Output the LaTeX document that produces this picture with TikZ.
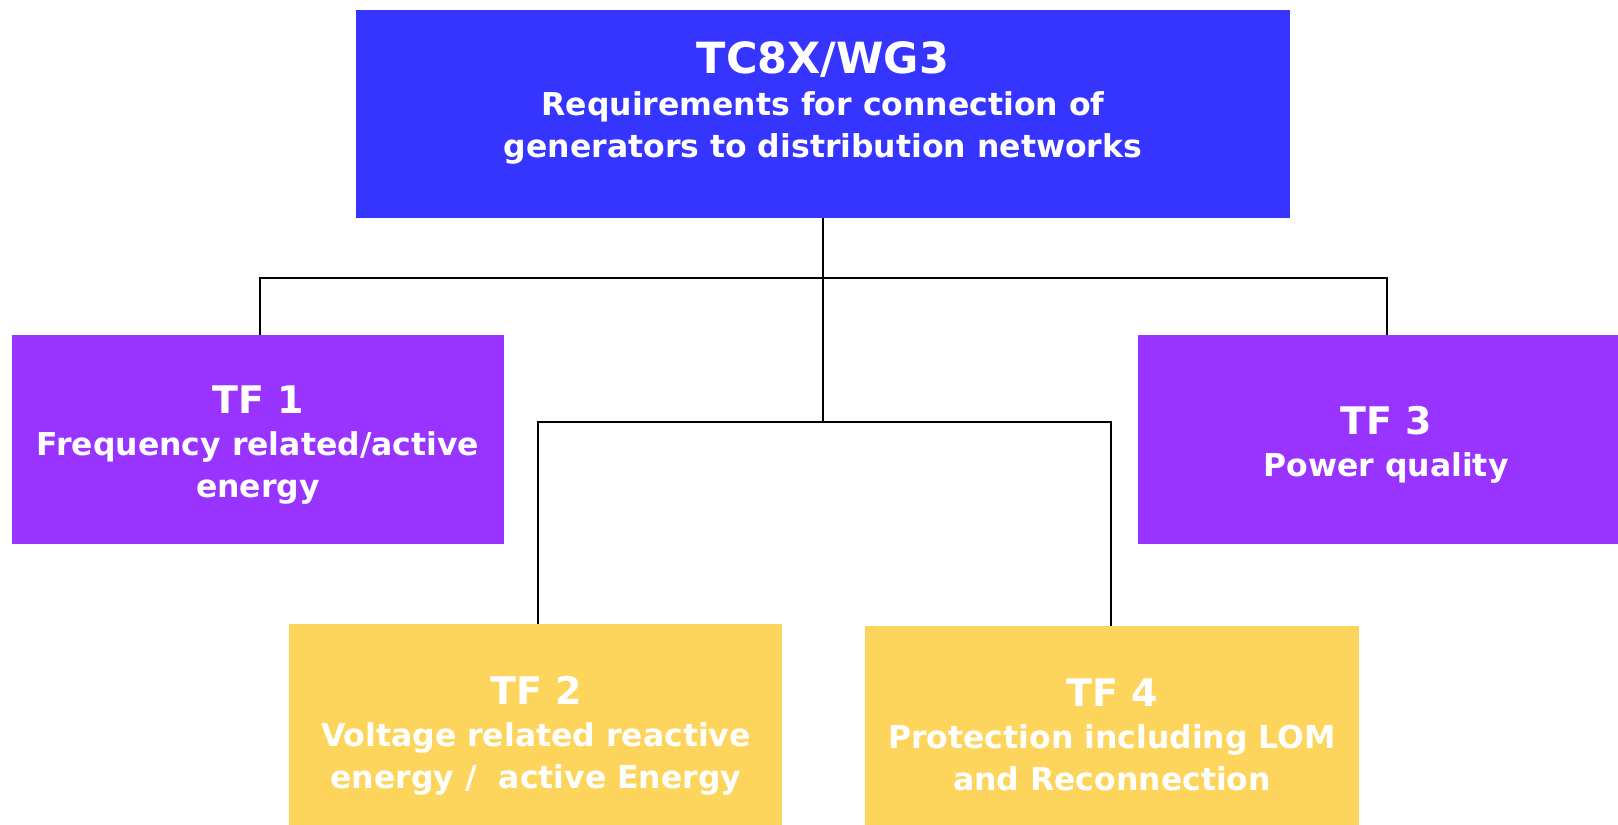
\documentclass[tikz,border=0pt]{standalone}
\usepackage{fontspec}
\setmainfont{DejaVu Sans}
\definecolor{topblue}{HTML}{3535FF}
\definecolor{tfpurple}{HTML}{9933FF}
\definecolor{tfyellow}{HTML}{FDD55C}
\newcommand\tfttlfont{\fontsize{38}{38}\selectfont}
\begin{document}
\begin{tikzpicture}[x=1pt,y=-1pt,
  box/.style={draw=none,inner sep=0pt,outer sep=0pt,anchor=north west},
  txt/.style={text=white,align=center,font=\bfseries\fontsize{31.5}{42}\selectfont,inner sep=0pt},
  conn/.style={draw=black,line width=1.6pt},
  trunk/.style={draw=black,line width=2.6pt}]
\useasboundingbox (0,0) rectangle (1618,825);
\clip (0,0) rectangle (1618,825);
\node[box,fill=topblue,minimum width=934pt,minimum height=208pt] (top) at (356,10) {};
\node[box,fill=tfpurple,minimum width=492pt,minimum height=209pt] (tf1) at (12,335) {};
\node[box,fill=tfpurple,minimum width=496pt,minimum height=209pt] (tf3) at (1138,335) {};
\node[box,fill=tfyellow,minimum width=493pt,minimum height=209pt] (tf2) at (289,624) {};
\node[box,fill=tfyellow,minimum width=494pt,minimum height=209pt] (tf4) at (865,626) {};
\node[txt] (toptxt) at (823,103) {{\fontsize{43}{43}\selectfont TC8X/WG3}\\Requirements for connection of\\generators to distribution networks};
\node[txt] (tf1txt) at (258,445) {{\tfttlfont TF 1}\\Frequency related/active\\energy};
\node[txt] (tf3txt) at (1386,445) {{\tfttlfont TF 3}\\Power quality};
\node[txt] (tf2txt) at (536,736) {{\tfttlfont TF 2}\\Voltage related reactive\\energy /\ \ active Energy};
\node[txt] (tf4txt) at (1112,735) {{\tfttlfont TF 4}\\Protection including LOM\\and Reconnection};
\coordinate (j1) at (823,278);
\coordinate (j2) at (823,422);
\coordinate (d1) at (260,278);
\coordinate (d3) at (1387,278);
\coordinate (d2) at (538,422);
\coordinate (d4) at (1111,422);
\draw[trunk] (top.south) -- (j2);
\draw[conn] (tf1.north -| d1) -- (d1) -- (d3) -- (tf3.north -| d3);
\draw[conn] (tf2.north -| d2) -- (d2) -- (d4) -- (tf4.north -| d4);
\end{tikzpicture}
\end{document}
